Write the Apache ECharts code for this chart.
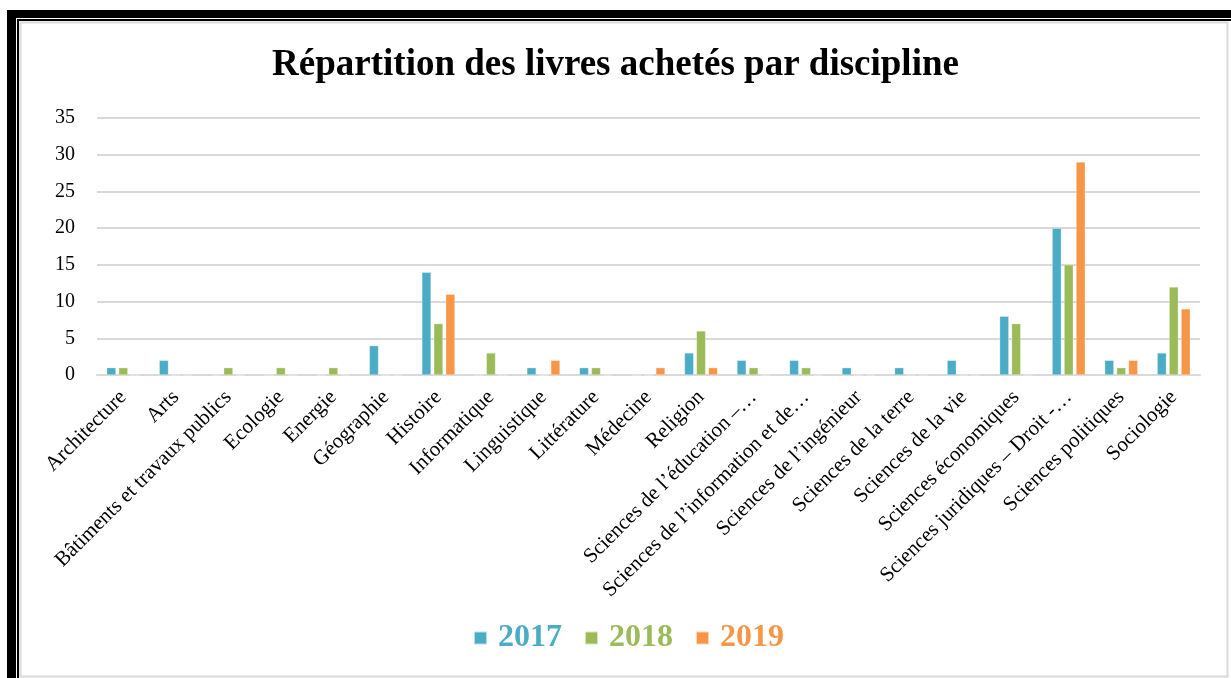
<!DOCTYPE html>
<html>
<head>
<meta charset="utf-8">
<script src="https://cdn.jsdelivr.net/npm/echarts@6/dist/echarts.min.js"></script>
<style>
html,body{margin:0;padding:0;background:#fff;}
#c{width:1231px;height:678px;}
</style>
</head>
<body>
<div id="c"></div>
<script>
const categories = ["Architecture","Arts","Bâtiments et travaux publics","Ecologie","Energie","Géographie","Histoire","Informatique","Linguistique","Littérature","Médecine","Religion","Sciences de l’éducation –…","Sciences de l’information et de…","Sciences de l’ingénieur","Sciences de la terre","Sciences de la vie","Sciences économiques","Sciences juridiques – Droit -…","Sciences politiques","Sociologie"];
const values2017 = [1,2,0,0,0,4,14,0,1,1,0,3,2,2,1,1,2,8,20,2,3];
const values2018 = [1,0,1,1,1,0,7,3,0,1,0,6,1,1,0,0,0,7,15,1,12];
const values2019 = [0,0,0,0,0,0,11,0,2,0,1,1,0,0,0,0,0,0,29,2,9];
const yTicks = [0,5,10,15,20,25,30,35];
const seriesNames = ["2017","2018","2019"];
const colors = ["#4BACC6","#9BBB59","#F79646"];

const serif = "'Liberation Serif','DejaVu Serif',serif";
const chart = echarts.init(document.getElementById('c'));
const data = [values2017, values2018, values2019];
chart.setOption({
  animation:false,
  backgroundColor:'#fff',
  graphic:[
    {type:'rect',shape:{x:7,y:10,width:9,height:668},style:{fill:'#000'},z:100},
    {type:'rect',shape:{x:7,y:10,width:1224,height:8},style:{fill:'#000'},z:100},
    {type:'rect',shape:{x:17,y:19,width:1214,height:2},style:{fill:'#000'},z:100},
    {type:'rect',shape:{x:17,y:19,width:2,height:659},style:{fill:'#000'},z:100},
    {type:'rect',shape:{x:20.5,y:22.5,width:1207,height:654},style:{fill:'none',stroke:'#D9D9D9',lineWidth:2},z:100}
  ],
  title:{
    text:'Répartition des livres achetés par discipline',
    left:'center', top:42,
    textStyle:{fontFamily:serif,fontWeight:'bold',fontSize:37,color:'#000'}
  },
  legend:{
    bottom:19, left:468,
    itemWidth:13, itemHeight:13, itemGap:22,
    icon:'rect',
    data:seriesNames.map((n,i)=>({name:n,textStyle:{color:colors[i]}})),
    textStyle:{fontFamily:serif,fontWeight:'bold',fontSize:32,padding:[0,0,0,6]}
  },
  grid:{left:97,right:31,top:118,bottom:303,containLabel:false},
  xAxis:{
    type:'category', data:categories,
    axisLine:{show:true,lineStyle:{color:'#D9D9D9',width:2}},
    axisTick:{show:false},
    axisLabel:{rotate:45,interval:0,fontFamily:serif,fontSize:21,color:'#000',margin:19}
  },
  yAxis:{
    type:'value', min:0, max:35, interval:5,
    axisLine:{show:false}, axisTick:{show:false},
    axisLabel:{fontFamily:serif,fontSize:20,color:'#000',margin:22,
      formatter:v=>yTicks.includes(v)?String(v):''},
    splitLine:{lineStyle:{color:'#D9D9D9',width:2}}
  },
  series:seriesNames.map((n,i)=>({
    name:n,type:'bar',data:data[i],
    barGap:'30%',barCategoryGap:'37%',
    itemStyle:{color:colors[i],borderColor:'rgba(255,255,255,0.6)',borderWidth:0.5}
  }))
});
</script>
</body>
</html>
